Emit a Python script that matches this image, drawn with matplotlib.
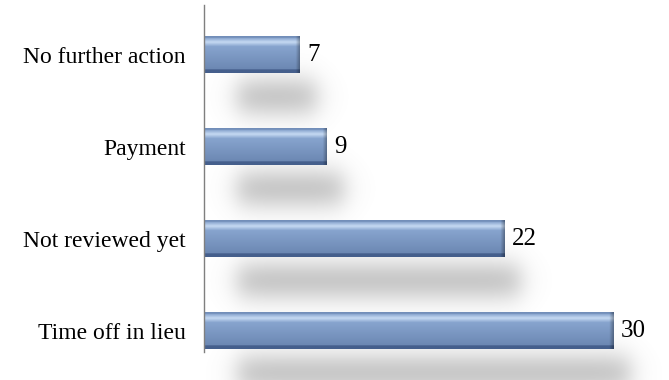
import numpy as np
import matplotlib.pyplot as plt
from matplotlib.colors import to_rgb

# Outcome counts, bottom to top
categorias = ["Time off in lieu", "Not reviewed yet", "Payment", "No further action"]
valores = [30, 22, 9, 7]

plt.rcParams['font.family'] = ['Liberation Serif', 'DejaVu Serif']

fig = plt.figure(figsize=(6.69, 3.8), dpi=100)
ax = fig.add_axes([0.305, 0.074, 0.694, 0.913])
ax.set_xlim(0, 34)
ax.set_ylim(-0.23, 3.54)

alto = 0.4

# vertical shading of the bars: thin bright line near the top, darker base
perfil_y = np.linspace(0, 1, 80)  # 0 = bottom, 1 = top
claro = np.array(to_rgb("#c6daf3"))
medio = np.array(to_rgb("#86a3cd"))
oscuro = np.array(to_rgb("#455f8c"))

def color_fila(t):
    if t > 0.95:
        return medio * 0.7 + oscuro * 0.3
    if t > 0.70:
        k = max(0.0, 1 - abs(t - 0.84) / 0.12)
        return medio * (1 - k) + claro * k
    if t > 0.10:
        k = (0.70 - t) / 0.6
        return medio * (1 - 0.4 * k) + oscuro * 0.4 * k
    return oscuro

def sombra(ax, x0, x1, yc):
    # soft grey shadow below and to the right of each bar
    xs = np.linspace(x0 - 3, x1 + 3, 300)
    ys = np.linspace(yc - 0.6, yc + 0.6, 120)
    fx = 0.5 * (np.tanh((xs - x0) / 1.0) - np.tanh((xs - x1) / 1.0))
    fy = np.exp(-((ys - yc) / 0.24) ** 2)
    a = np.outer(fy, fx) * 0.42
    img = np.zeros((120, 300, 4))
    img[..., :3] = 0.5
    img[..., 3] = a
    ax.imshow(img, extent=(xs[0], xs[-1], ys[0], ys[-1]), origin="lower",
              aspect="auto", zorder=1, clip_on=False, interpolation="bilinear")

for i, v in enumerate(valores):
    sombra(ax, 2.4, v + 1.2, i - 0.46)

    ancho = 300
    img = np.zeros((len(perfil_y), ancho, 3))
    for j, t in enumerate(perfil_y):
        img[j, :, :] = color_fila(t)
    # darker bevel at the right end
    xs = np.linspace(0, v, ancho)
    fin = np.clip((xs - (v - 0.3)) / 0.3, 0, 1)[None, :, None]
    img = img * (1 - 0.3 * fin)
    ax.imshow(img, extent=(0, v, i - alto / 2, i + alto / 2), origin="lower",
              aspect="auto", zorder=2, interpolation="bilinear")
    ax.text(v + 0.55, i, str(v), va="center", ha="left", fontsize=18, color="black")

ax.set_yticks(range(len(categorias)))
ax.set_yticklabels(categorias, fontsize=17)
ax.tick_params(axis="y", length=0, pad=13)
ax.set_xticks([])
for s in ["top", "right", "bottom"]:
    ax.spines[s].set_visible(False)
ax.spines["left"].set_color("#7f7f7f")
ax.spines["left"].set_linewidth(1.0)
ax.spines["left"].set_zorder(3)
ax.set_facecolor("none")

fig.savefig("out.png", dpi=100)
